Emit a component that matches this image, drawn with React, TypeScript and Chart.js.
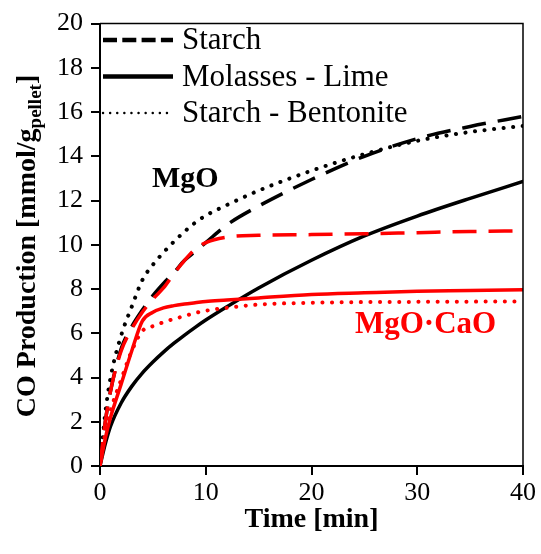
import React, { useEffect, useRef } from "react";
import { Chart, registerables } from "chart.js";

Chart.register(...registerables);

const FONT = "'Liberation Serif', 'Times New Roman', serif";

// Time axis samples [min]
const times = [0, 0.5, 1, 2, 3, 4, 5, 6, 7, 8, 9, 10, 12, 15, 20, 25, 30, 35, 40];

// MgO pellets (black)
const mgoStarch = [0, 2.0, 3.4, 5.3, 6.3, 7.05, 7.7, 8.25, 8.75, 9.3, 9.7, 10.1, 10.9, 11.75, 12.95, 14.0, 14.8, 15.35, 15.8];
const mgoMolassesLime = [0, 1.0, 1.8, 2.85, 3.6, 4.2, 4.7, 5.15, 5.55, 5.92, 6.27, 6.6, 7.2, 8.05, 9.3, 10.4, 11.3, 12.1, 12.86];
const mgoStarchBentonite = [0, 2.4, 4.0, 5.9, 7.2, 8.4, 9.1, 9.65, 10.15, 10.6, 11.0, 11.32, 11.8, 12.45, 13.35, 14.1, 14.7, 15.1, 15.37];

// MgO·CaO pellets (red)
const mgoCaoStarch = [0, 2.0, 3.4, 5.2, 6.2, 6.95, 7.55, 8.05, 8.7, 9.3, 9.8, 10.1, 10.35, 10.43, 10.46, 10.5, 10.55, 10.6, 10.63];
const mgoCaoMolassesLime = [0, 1.25, 2.2, 3.7, 5.2, 6.55, 6.95, 7.15, 7.25, 7.32, 7.38, 7.44, 7.5, 7.6, 7.75, 7.83, 7.9, 7.93, 7.97];
const mgoCaoStarchBentonite = [0, 1.5, 2.5, 3.9, 5.2, 6.1, 6.32, 6.5, 6.65, 6.78, 6.92, 7.02, 7.15, 7.3, 7.38, 7.41, 7.42, 7.43, 7.44];

const legendLabels = ["Starch", "Molasses - Lime", "Starch - Bentonite"];
const xTicks = [0, 10, 20, 30, 40];
const yTicks = [0, 2, 4, 6, 8, 10, 12, 14, 16, 18, 20];

type Style = "dash" | "solid" | "dot";

function styleProps(style: Style) {
  if (style === "dash") return { borderDash: [24, 12], borderCapStyle: "butt", borderWidth: 3.5 };
  if (style === "dot") return { borderDash: [0.1, 9.5], borderCapStyle: "round", borderWidth: 4 };
  return { borderDash: [], borderCapStyle: "round", borderWidth: 3.5 };
}

function mk(label: string, values: number[], color: string, style: Style) {
  return {
    label,
    data: values.map((y, i) => ({ x: times[i], y })),
    borderColor: color,
    backgroundColor: color,
    pointRadius: 0,
    fill: false,
    cubicInterpolationMode: "monotone",
    ...styleProps(style),
  };
}

const framePlugin = {
  id: "frame",
  afterDatasetsDraw(chart: any) {
    const { ctx, chartArea: a } = chart;
    ctx.save();
    ctx.strokeStyle = "#000";
    ctx.lineWidth = 1.5;
    ctx.beginPath();
    ctx.moveTo(a.left, a.top);
    ctx.lineTo(a.right, a.top);
    ctx.lineTo(a.right, a.bottom);
    ctx.stroke();
    ctx.restore();
  },
};

const legendPlugin = {
  id: "customLegend",
  afterDraw(chart: any) {
    const { ctx } = chart;
    const rows = [40, 76.5, 113];
    const styles: Style[] = ["dash", "solid", "dot"];
    ctx.save();
    rows.forEach((y, i) => {
      ctx.beginPath();
      ctx.strokeStyle = "#000";
      if (styles[i] === "dash") {
        ctx.setLineDash([14, 5.3]);
        ctx.lineWidth = 4.5;
        ctx.lineCap = "butt";
      } else if (styles[i] === "dot") {
        ctx.setLineDash([0.1, 7]);
        ctx.lineWidth = 2.4;
        ctx.lineCap = "round";
      } else {
        ctx.setLineDash([]);
        ctx.lineWidth = 4.5;
        ctx.lineCap = "butt";
      }
      ctx.moveTo(103, y);
      ctx.lineTo(173, y);
      ctx.stroke();
      ctx.setLineDash([]);
      ctx.fillStyle = "#000";
      ctx.font = `31px ${FONT}`;
      ctx.textBaseline = "middle";
      ctx.textAlign = "left";
      ctx.fillText(legendLabels[i], 182, y + 1);
    });
    ctx.restore();
  },
};

const textPlugin = {
  id: "texts",
  afterDraw(chart: any) {
    const { ctx, chartArea: a } = chart;
    ctx.save();
    // annotations
    ctx.textBaseline = "alphabetic";
    ctx.textAlign = "left";
    ctx.font = `bold 30px ${FONT}`;
    ctx.fillStyle = "#000";
    ctx.fillText("MgO", 152, 187);
    ctx.fillStyle = "#ff0000";
    ctx.font = `bold 31px ${FONT}`;
    ctx.fillText("MgO\u00B7CaO", 355, 333);

    // x title
    ctx.fillStyle = "#000";
    ctx.font = `bold 28px ${FONT}`;
    ctx.textAlign = "center";
    ctx.fillText("Time [min]", (a.left + a.right) / 2, 527);

    // y title with subscript
    ctx.translate(35, 246);
    ctx.rotate(-Math.PI / 2);
    const main = "CO Production [mmol/g";
    const sub = "pellet";
    const end = "]";
    ctx.font = `bold 28px ${FONT}`;
    const wMain = ctx.measureText(main).width;
    const wEnd = ctx.measureText(end).width;
    ctx.font = `bold 19px ${FONT}`;
    const wSub = ctx.measureText(sub).width;
    const total = wMain + wSub + wEnd;
    let x = -total / 2;
    ctx.textAlign = "left";
    ctx.font = `bold 28px ${FONT}`;
    ctx.fillText(main, x, 0);
    x += wMain;
    ctx.font = `bold 19px ${FONT}`;
    ctx.fillText(sub, x, 6);
    x += wSub;
    ctx.font = `bold 28px ${FONT}`;
    ctx.fillText(end, x, 0);
    ctx.restore();
  },
};

export default function App() {
  const ref = useRef<HTMLCanvasElement>(null);
  useEffect(() => {
    document.body.style.margin = "0";
    const canvas = ref.current!;
    const chart = new Chart(canvas, {
      type: "line",
      data: {
        datasets: [
          mk("MgO·CaO Starch", mgoCaoStarch, "#ff0000", "dash"),
          mk("MgO·CaO Molasses - Lime", mgoCaoMolassesLime, "#ff0000", "solid"),
          mk("MgO·CaO Starch - Bentonite", mgoCaoStarchBentonite, "#ff0000", "dot"),
          mk("MgO Starch", mgoStarch, "#000000", "dash"),
          mk("MgO Molasses - Lime", mgoMolassesLime, "#000000", "solid"),
          mk("MgO Starch - Bentonite", mgoStarchBentonite, "#000000", "dot"),
        ] as any,
      },
      options: {
        animation: false,
        responsive: true,
        maintainAspectRatio: false,
        layout: { padding: { top: 19, right: 18, left: 0, bottom: 0 } },
        plugins: { legend: { display: false }, tooltip: { enabled: false } },
        scales: {
          x: {
            type: "linear",
            min: 0,
            max: 40,
            afterBuildTicks: (s: any) => {
              s.ticks = xTicks.map((v) => ({ value: v }));
            },
            afterFit: (s: any) => {
              s.height = 88;
            },
            ticks: { color: "#000", font: { family: FONT, size: 26 }, padding: 3, maxRotation: 0 },
            grid: { drawOnChartArea: false, drawTicks: true, tickLength: 9, color: "#000", lineWidth: 2 },
            border: { display: true, color: "#000", width: 2 },
          },
          y: {
            type: "linear",
            min: 0,
            max: 20,
            afterBuildTicks: (s: any) => {
              s.ticks = yTicks.map((v) => ({ value: v }));
            },
            afterFit: (s: any) => {
              s.width = 100;
            },
            ticks: { color: "#000", font: { family: FONT, size: 26 }, padding: 8 },
            grid: { drawOnChartArea: false, drawTicks: true, tickLength: 9, color: "#000", lineWidth: 2 },
            border: { display: true, color: "#000", width: 2 },
          },
        },
      } as any,
      plugins: [framePlugin, legendPlugin, textPlugin],
    });
    return () => chart.destroy();
  }, []);
  return (
    <div style={{ position: "absolute", left: 0, top: 0, width: 541, height: 554 }}>
      <canvas ref={ref} />
    </div>
  );
}
